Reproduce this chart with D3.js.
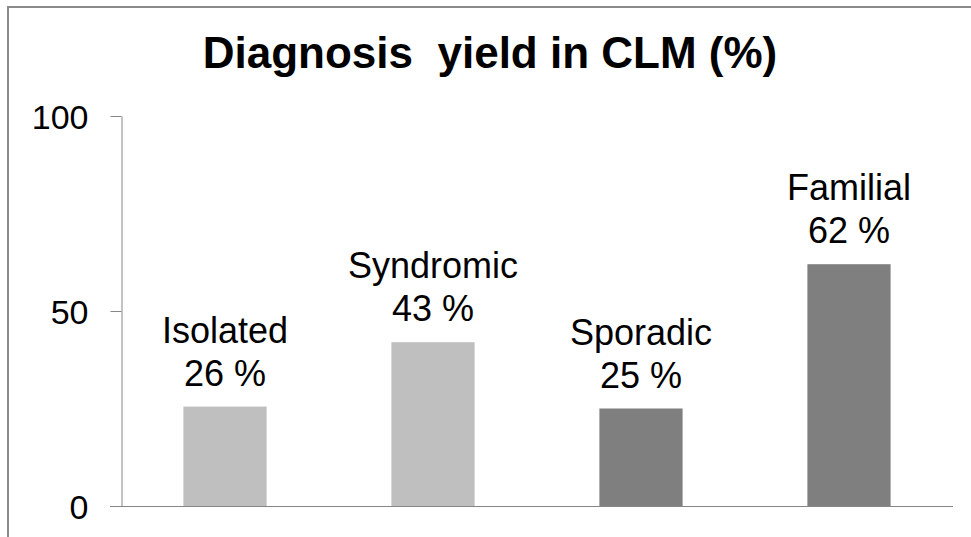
<!DOCTYPE html>
<html>
<head>
<meta charset="utf-8">
<script src="https://cdn.jsdelivr.net/npm/d3@7"></script>
<style>
  body { margin: 0; background: #fff; }
  text { font-family: "Liberation Sans", Arial, sans-serif; }
</style>
</head>
<body>
<div id="chart"></div>
<script>
/* data */
var categories = ["Isolated", "Syndromic", "Sporadic", "Familial"];
var values = [25.5, 42, 25, 62];
var valueLabels = ["26 %", "43 %", "25 %", "62 %"];
var barColors = ["#bfbfbf", "#bfbfbf", "#7f7f7f", "#7f7f7f"];
var yTicks = [0, 50, 100];

var width = 971, height = 537;

var svg = d3.select("#chart").append("svg")
	.attr("width", width)
	.attr("height", height);

/*frame of the slide chart*/
svg.append("rect")
	.attr("x", 8)
	.attr("y", 7)
	.attr("width", width + 20)
	.attr("height", height + 20)
	.attr("fill", "none")
	.attr("stroke", "#8a8a8a")
	.attr("stroke-width", 2);

var x = d3.scaleBand()
	.domain(categories)
	.range([121, 953])
	.paddingInner(0.6)
	.paddingOuter(0.3);

var y = d3.scaleLinear()
	.domain([0, 100])
	.range([506, 116]);

/*title*/
svg.append("text")
	.attr("x", 490)
	.attr("y", 68)
	.attr("text-anchor", "middle")
	.style("font-size", "44px")
	.style("font-weight", "bold")
	.style("white-space", "pre")
	.text("Diagnosis  yield in CLM (%)");

/*bars*/
svg.selectAll(".bar")
	.data(values)
	.enter().append("rect")
	.attr("class", "bar")
	.attr("x", function(d, i) { return x(categories[i]); })
	.attr("width", x.bandwidth())
	.attr("y", function(d) { return y(d); })
	.attr("height", function(d) { return y(0) - y(d); })
	.attr("fill", function(d, i) { return barColors[i]; });

/*y axis*/
var yAxis = svg.append("g")
	.attr("transform", "translate(121.5,0)")
	.call(d3.axisLeft(y).tickValues(yTicks).tickSize(11).tickSizeOuter(0).tickPadding(22));
yAxis.select(".domain").attr("stroke", "#868686");
yAxis.selectAll(".tick line").attr("stroke", "#868686");
yAxis.selectAll(".tick text")
	.style("font-size", "34px")
	.attr("fill", "#000")
	.attr("dy", "0.36em");

/*x axis line*/
svg.append("line")
	.attr("x1", 110)
	.attr("x2", 953)
	.attr("y1", y(0) + 0.5)
	.attr("y2", y(0) + 0.5)
	.attr("stroke", "#868686");

/*labels above bars*/
var labels = svg.selectAll(".lbl")
	.data(values)
	.enter().append("text")
	.attr("class", "lbl")
	.attr("text-anchor", "middle")
	.style("font-size", "36px")
	.attr("fill", "#000");

labels.append("tspan")
	.attr("x", function(d, i) { return x(categories[i]) + x.bandwidth() / 2; })
	.attr("y", function(d) { return y(d) - 64; })
	.text(function(d, i) { return categories[i]; });

labels.append("tspan")
	.attr("x", function(d, i) { return x(categories[i]) + x.bandwidth() / 2; })
	.attr("y", function(d) { return y(d) - 21; })
	.text(function(d, i) { return valueLabels[i]; });
</script>
</body>
</html>
